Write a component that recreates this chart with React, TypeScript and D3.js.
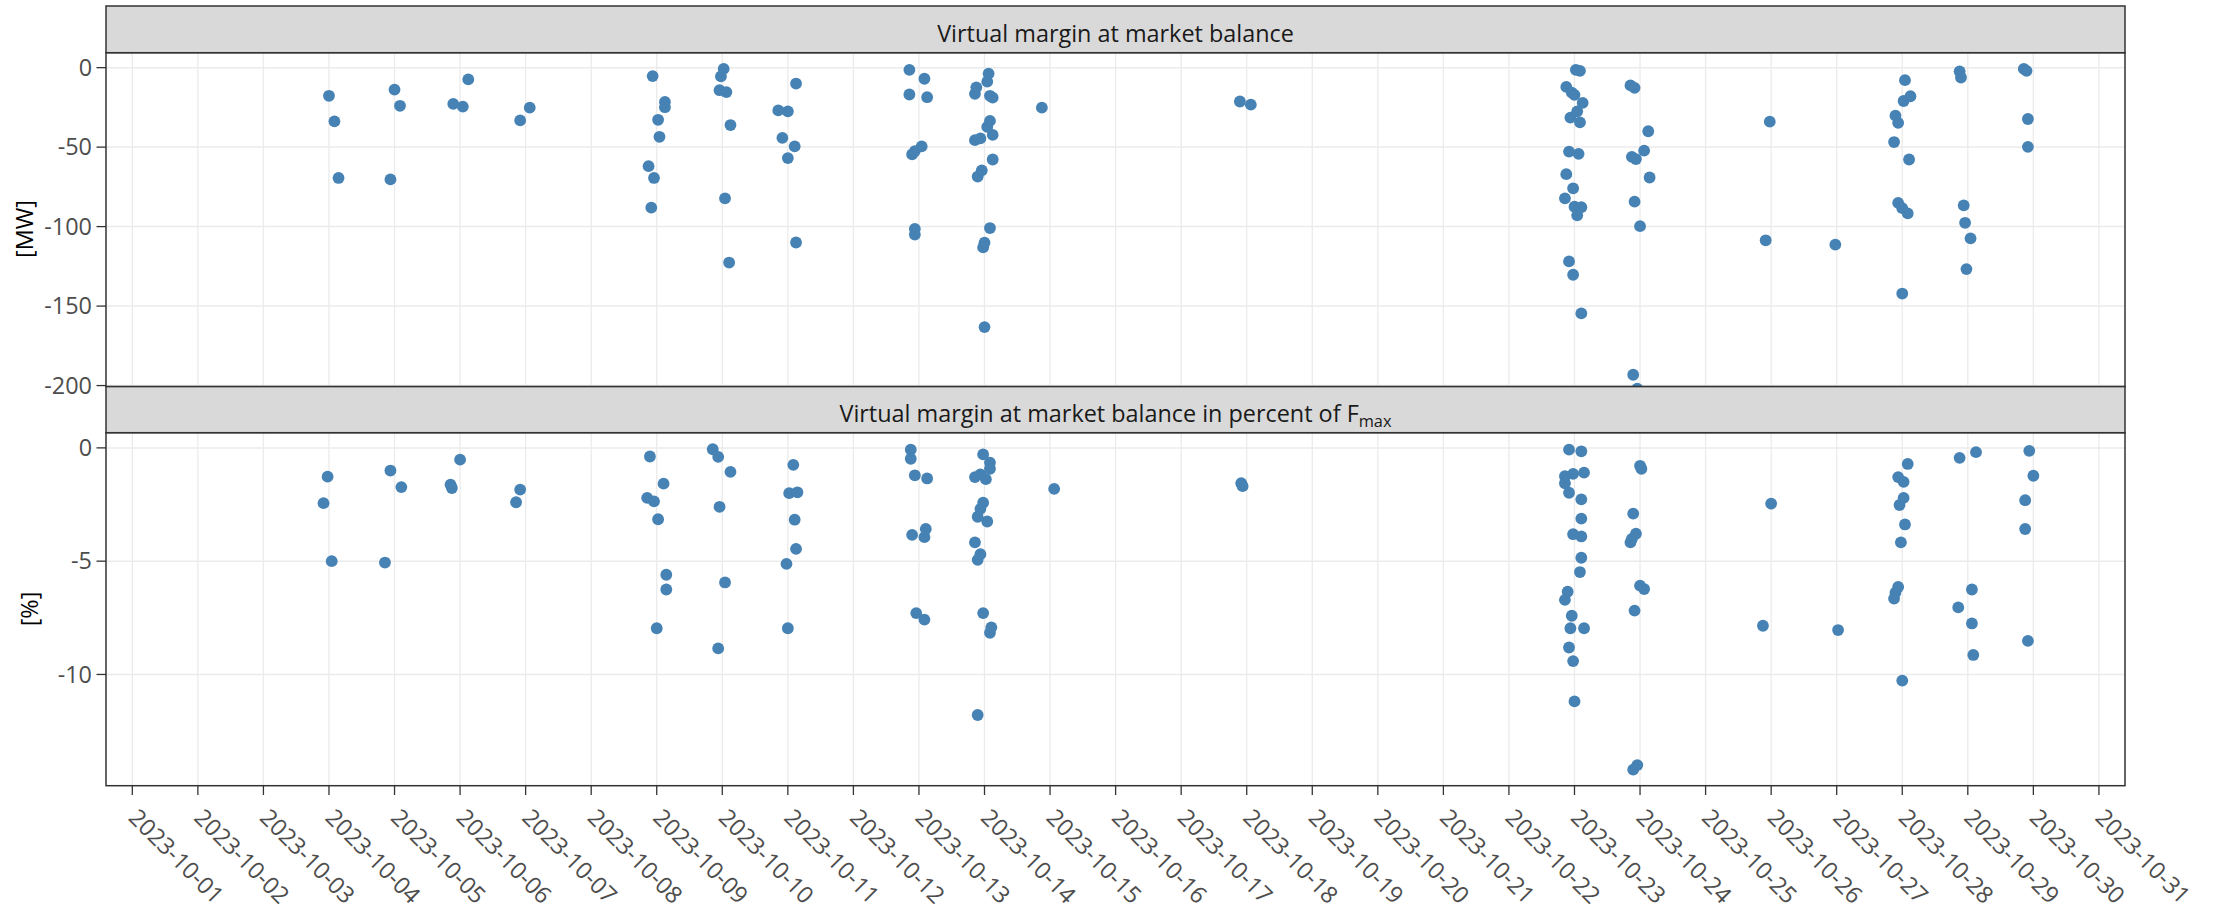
import React from "react";
import * as d3 from "d3";

// Virtual margin at market balance, MW (timestamp, value)
const mwTimes = [
  "2023-10-04 00:00", "2023-10-04 02:00", "2023-10-04 03:30", "2023-10-04 22:30", "2023-10-05 00:00",
  "2023-10-05 02:00", "2023-10-05 21:30", "2023-10-06 01:00", "2023-10-06 03:00", "2023-10-06 22:00",
  "2023-10-07 01:30", "2023-10-08 21:00", "2023-10-08 22:00", "2023-10-08 22:30", "2023-10-08 23:00",
  "2023-10-09 00:30", "2023-10-09 01:00", "2023-10-09 03:00", "2023-10-09 03:00", "2023-10-09 23:00",
  "2023-10-09 23:30", "2023-10-10 00:30", "2023-10-10 01:00", "2023-10-10 01:30", "2023-10-10 02:30",
  "2023-10-10 03:00", "2023-10-10 20:30", "2023-10-10 22:00", "2023-10-11 00:00", "2023-10-11 00:00",
  "2023-10-11 02:30", "2023-10-11 03:00", "2023-10-11 03:00",
  "2023-10-12 20:30", "2023-10-12 20:30", "2023-10-12 21:30", "2023-10-12 22:30", "2023-10-12 22:30",
  "2023-10-12 22:30", "2023-10-13 01:00", "2023-10-13 02:00", "2023-10-13 03:00", "2023-10-13 20:30",
  "2023-10-13 20:30", "2023-10-13 21:00", "2023-10-13 21:30", "2023-10-13 22:30", "2023-10-13 23:00",
  "2023-10-13 23:30", "2023-10-14 00:00", "2023-10-14 00:00", "2023-10-14 01:00", "2023-10-14 01:00",
  "2023-10-14 01:30", "2023-10-14 02:00", "2023-10-14 02:00", "2023-10-14 02:00", "2023-10-14 03:00",
  "2023-10-14 03:00", "2023-10-14 03:00", "2023-10-14 21:00", "2023-10-17 21:30", "2023-10-18 01:30",
  "2023-10-22 20:30", "2023-10-22 21:00", "2023-10-22 21:00", "2023-10-22 22:00", "2023-10-22 22:00",
  "2023-10-22 22:30", "2023-10-22 23:00", "2023-10-22 23:30", "2023-10-22 23:30", "2023-10-23 00:00",
  "2023-10-23 00:00", "2023-10-23 00:30", "2023-10-23 01:00", "2023-10-23 01:00", "2023-10-23 01:30",
  "2023-10-23 02:00", "2023-10-23 02:00", "2023-10-23 02:30", "2023-10-23 02:30", "2023-10-23 03:00",
  "2023-10-23 20:30", "2023-10-23 21:00", "2023-10-23 21:30", "2023-10-23 22:00", "2023-10-23 22:00",
  "2023-10-23 22:30", "2023-10-23 23:00", "2023-10-24 00:00", "2023-10-24 01:30", "2023-10-24 03:00",
  "2023-10-24 03:30", "2023-10-25 22:00", "2023-10-25 23:30", "2023-10-26 23:30",
  "2023-10-27 21:00", "2023-10-27 21:30", "2023-10-27 22:30", "2023-10-27 22:30", "2023-10-28 00:00",
  "2023-10-28 00:00", "2023-10-28 00:30", "2023-10-28 01:00", "2023-10-28 02:00", "2023-10-28 02:30",
  "2023-10-28 03:00", "2023-10-28 21:00", "2023-10-28 21:30", "2023-10-28 22:30", "2023-10-28 23:00",
  "2023-10-28 23:30", "2023-10-29 01:00", "2023-10-29 20:30", "2023-10-29 21:30", "2023-10-29 22:00",
  "2023-10-29 22:00",
];
const mwValues = [
  -17.7, -33.8, -69.4, -70.3, -13.8,
  -24.0, -22.8, -24.5, -7.4, -33.2,
  -25.2, -62.0, -88.1, -5.3, -69.4,
  -32.8, -43.5, -21.6, -24.9, -14.2,
  -5.5, -0.8, -82.2, -15.4, -122.6,
  -36.1, -26.9, -44.2, -27.5, -56.9,
  -49.5, -10.0, -110.0,
  -1.4, -16.9, -54.6, -105.0, -52.5,
  -101.5, -49.5, -7.0, -18.6, -16.5,
  -45.6, -12.4, -68.5, -44.5, -64.6,
  -113.1, -110.1, -163.2, -37.3, -8.8,
  -3.8, -17.7, -33.5, -100.9, -42.3,
  -18.9, -57.8, -25.2, -21.3, -23.3,
  -82.2, -12.1, -67.0, -121.9, -52.8,
  -31.4, -15.7, -75.9, -130.3, -17.1,
  -87.5, -1.4, -27.5, -92.9, -54.2,
  -2.0, -34.4, -87.8, -154.6, -22.2,
  -11.2, -56.1, -193.2, -12.7, -84.3,
  -57.5, -202.0, -99.7, -52.2, -40.0,
  -69.1, -108.6, -34.0, -111.3,
  -46.8, -30.2, -34.7, -85.1, -142.1,
  -88.4, -21.0, -7.9, -91.7, -57.8,
  -18.0, -2.3, -6.2, -86.6, -97.6,
  -126.7, -107.4, -0.8, -2.0, -32.3,
  -49.8,
];

// Virtual margin at market balance in percent of Fmax (timestamp, value)
const pctTimes = [
  "2023-10-03 22:00", "2023-10-03 23:30", "2023-10-04 01:00", "2023-10-04 20:30", "2023-10-04 22:30",
  "2023-10-05 02:30", "2023-10-05 20:30", "2023-10-05 21:00", "2023-10-06 00:00", "2023-10-06 20:30",
  "2023-10-06 22:00", "2023-10-08 20:30", "2023-10-08 21:30", "2023-10-08 23:00", "2023-10-09 00:00",
  "2023-10-09 00:30", "2023-10-09 02:30", "2023-10-09 03:30", "2023-10-09 03:30", "2023-10-09 20:30",
  "2023-10-09 22:30", "2023-10-09 22:30", "2023-10-09 23:00", "2023-10-10 01:00", "2023-10-10 03:00",
  "2023-10-10 23:30", "2023-10-11 00:00", "2023-10-11 00:30", "2023-10-11 02:00", "2023-10-11 02:30",
  "2023-10-11 03:00", "2023-10-11 03:30",
  "2023-10-12 21:00", "2023-10-12 21:00", "2023-10-12 21:30", "2023-10-12 22:30", "2023-10-12 23:00",
  "2023-10-13 02:00", "2023-10-13 02:00", "2023-10-13 02:30", "2023-10-13 03:00", "2023-10-13 20:30",
  "2023-10-13 20:30", "2023-10-13 21:30", "2023-10-13 21:30", "2023-10-13 21:30", "2023-10-13 22:30",
  "2023-10-13 22:30", "2023-10-13 22:30", "2023-10-13 23:30", "2023-10-13 23:30", "2023-10-13 23:30",
  "2023-10-14 00:30", "2023-10-14 01:00", "2023-10-14 02:00", "2023-10-14 02:00", "2023-10-14 02:00",
  "2023-10-14 02:30", "2023-10-15 01:30", "2023-10-17 22:00", "2023-10-17 22:30",
  "2023-10-22 20:30", "2023-10-22 20:30", "2023-10-22 20:30", "2023-10-22 21:30", "2023-10-22 22:00",
  "2023-10-22 22:00", "2023-10-22 22:00", "2023-10-22 22:30", "2023-10-22 23:00", "2023-10-22 23:30",
  "2023-10-22 23:30", "2023-10-22 23:30", "2023-10-23 00:00", "2023-10-23 02:00", "2023-10-23 02:30",
  "2023-10-23 02:30", "2023-10-23 02:30", "2023-10-23 02:30", "2023-10-23 02:30", "2023-10-23 03:30",
  "2023-10-23 03:30", "2023-10-23 20:30", "2023-10-23 21:00", "2023-10-23 21:30", "2023-10-23 21:30",
  "2023-10-23 22:00", "2023-10-23 22:30", "2023-10-23 23:00", "2023-10-24 00:00", "2023-10-24 00:00",
  "2023-10-24 00:30", "2023-10-24 01:30", "2023-10-25 21:00", "2023-10-26 00:00", "2023-10-27 00:30",
  "2023-10-27 21:00", "2023-10-27 21:30", "2023-10-27 22:30", "2023-10-27 22:30", "2023-10-27 23:00",
  "2023-10-27 23:30", "2023-10-28 00:00", "2023-10-28 00:30", "2023-10-28 00:30", "2023-10-28 01:00",
  "2023-10-28 02:00", "2023-10-28 20:30", "2023-10-28 21:00", "2023-10-29 01:30", "2023-10-29 01:30",
  "2023-10-29 02:00", "2023-10-29 03:00", "2023-10-29 21:00", "2023-10-29 21:00", "2023-10-29 22:00",
  "2023-10-29 22:30", "2023-10-30 00:00",
];
const pctValues = [
  -2.44, -1.27, -5.0, -5.06, -1.0,
  -1.73, -1.62, -1.77, -0.52, -2.40,
  -1.84, -2.21, -0.38, -2.36, -7.96,
  -3.15, -1.58, -5.6, -6.25, -0.06,
  -0.40, -8.85, -2.6, -5.94, -1.06,
  -5.12, -7.96, -2.0, -0.75, -3.17,
  -4.46, -1.96,
  -0.48, -0.08, -3.84, -1.21, -7.29,
  -3.94, -7.58, -3.58, -1.35, -1.29,
  -4.17, -3.04, -11.79, -4.94, -4.69,
  -1.17, -2.69, -2.42, -7.29, -0.29,
  -1.38, -3.25, -8.16, -0.65, -0.92,
  -7.92, -1.81, -1.56, -1.69,
  -1.56, -6.71, -1.25, -6.35, -0.08,
  -8.81, -1.98, -7.96, -7.41, -1.15,
  -3.81, -9.41, -11.19, -5.48, -3.91,
  -4.85, -3.12, -0.15, -2.27, -7.96,
  -1.09, -4.17, -4.02, -2.9, -14.2,
  -7.18, -3.79, -14.0, -0.79, -6.08,
  -0.92, -6.23, -7.85, -2.46, -8.04,
  -6.65, -6.39, -6.14, -1.29, -2.52,
  -4.17, -10.27, -2.21, -1.50, -3.38,
  -0.71, -7.04, -0.44, -7.75, -6.25,
  -9.14, -0.19, -2.31, -3.58, -8.52,
  -0.13, -1.23,
];

const mwTicks = [0, -50, -100, -150, -200];
const pctTicks = [0, -5, -10];
const xRange = ["2023-09-30 14:22", "2023-10-31 09:33"];
const tickStart = "2023-10-01 00:00";
const tickEnd = "2023-11-01 00:00";

const W = 2213;
const H = 910;
const FONT = "'Open Sans', verdana, arial, sans-serif";
const FS = 23.4;
const plotLeft = 106;
const plotRight = 2125;
const strip1 = [6, 52.7];
const panel1 = [52.7, 386.6];
const strip2 = [386.6, 432.7];
const panel2 = [432.7, 785.7];

const parse = d3.utcParse("%Y-%m-%d %H:%M");
const fmtDay = d3.utcFormat("%Y-%m-%d");

const x = d3
  .scaleUtc()
  .domain([parse(xRange[0]) as Date, parse(xRange[1]) as Date])
  .range([plotLeft, plotRight]);
const dayTicks = d3.utcDay.range(parse(tickStart) as Date, parse(tickEnd) as Date);

const yMW = d3.scaleLinear().domain([-200.65, 9.4]).range([panel1[1], panel1[0]]);
const yPct = d3.scaleLinear().domain([-14.91, 0.67]).range([panel2[1], panel2[0]]);

const GRID = "#EBEBEB";
const BORDER = "#333333";
const DOT = "#4682B4";

function Panel({
  top,
  bottom,
  y,
  ticks,
  times,
  values,
}: {
  top: number;
  bottom: number;
  y: d3.ScaleLinear<number, number>;
  ticks: number[];
  times: string[];
  values: number[];
}) {
  return (
    <g>
      <rect x={plotLeft} y={top} width={plotRight - plotLeft} height={bottom - top} fill="#fff" />
      {dayTicks.map((d, i) => (
        <line key={"v" + i} x1={x(d)} x2={x(d)} y1={top} y2={bottom} stroke={GRID} strokeWidth={1.3} />
      ))}
      {ticks.map((t) => (
        <line key={"h" + t} x1={plotLeft} x2={plotRight} y1={y(t)} y2={y(t)} stroke={GRID} strokeWidth={1.5} />
      ))}
      {times.map((t, i) => (
        <circle key={"p" + i} cx={x(parse(t) as Date)} cy={y(values[i])} r={5.9} fill={DOT} />
      ))}
      {ticks.map((t) => (
        <g key={"t" + t}>
          <line x1={96.5} x2={plotLeft} y1={y(t)} y2={y(t)} stroke={BORDER} strokeWidth={1.3} />
          <text
            x={92}
            y={y(t)}
            dy="0.35em"
            textAnchor="end"
            fill="#4D4D4D"
            fontSize={FS}
            fontFamily={FONT}
          >
            {t}
          </text>
        </g>
      ))}
    </g>
  );
}

function Strip({ top, bottom, children }: { top: number; bottom: number; children: React.ReactNode }) {
  const cx = (plotLeft + plotRight) / 2;
  return (
    <g>
      <rect
        x={plotLeft}
        y={top}
        width={plotRight - plotLeft}
        height={bottom - top}
        fill="#D9D9D9"
        stroke={BORDER}
        strokeWidth={1.5}
      />
      <text
        x={cx}
        y={(top + bottom) / 2 + 12.7}
        textAnchor="middle"
        fill="#1A1A1A"
        fontSize={FS}
        fontFamily={FONT}
      >
        {children}
      </text>
    </g>
  );
}

export default function App() {
  return (
    <svg
      width={W}
      height={H}
      viewBox={`0 0 ${W} ${H}`}
      style={{ position: "absolute", left: 0, top: 0, display: "block", background: "#fff" }}
    >
      <rect x={0} y={0} width={W} height={H} fill="#fff" />
      <Panel top={panel1[0]} bottom={panel1[1]} y={yMW} ticks={mwTicks} times={mwTimes} values={mwValues} />
      <Panel top={panel2[0]} bottom={panel2[1]} y={yPct} ticks={pctTicks} times={pctTimes} values={pctValues} />
      <rect
        x={plotLeft}
        y={panel1[0]}
        width={plotRight - plotLeft}
        height={panel1[1] - panel1[0]}
        fill="none"
        stroke={BORDER}
        strokeWidth={1.5}
      />
      <rect
        x={plotLeft}
        y={panel2[0]}
        width={plotRight - plotLeft}
        height={panel2[1] - panel2[0]}
        fill="none"
        stroke={BORDER}
        strokeWidth={1.5}
      />
      <Strip top={strip1[0]} bottom={strip1[1]}>
        Virtual margin at market balance
      </Strip>
      <Strip top={strip2[0]} bottom={strip2[1]}>
        Virtual margin at market balance in percent of F
        <tspan fontSize="70%" dy="0.3em">
          max
        </tspan>
      </Strip>
      {/* x axis: daily ticks under the lower panel */}
      {dayTicks.map((d, i) => (
        <g key={"x" + i}>
          <line x1={x(d)} x2={x(d)} y1={panel2[1]} y2={795} stroke={BORDER} strokeWidth={1.3} />
          <text
            transform={`translate(${x(d) - 5}, 819) rotate(45)`}
            textAnchor="start"
            fill="#4D4D4D"
            fontSize={FS}
            fontFamily={FONT}
          >
            {fmtDay(d)}
          </text>
        </g>
      ))}
      <text
        transform={`translate(32.7, 229) rotate(-90)`}
        textAnchor="middle"
        fill="#000"
        fontSize={FS}
        fontFamily={FONT}
      >
        [MW]
      </text>
      <text
        transform={`translate(37.7, 609) rotate(-90)`}
        textAnchor="middle"
        fill="#000"
        fontSize={FS}
        fontFamily={FONT}
      >
        [%]
      </text>
    </svg>
  );
}
